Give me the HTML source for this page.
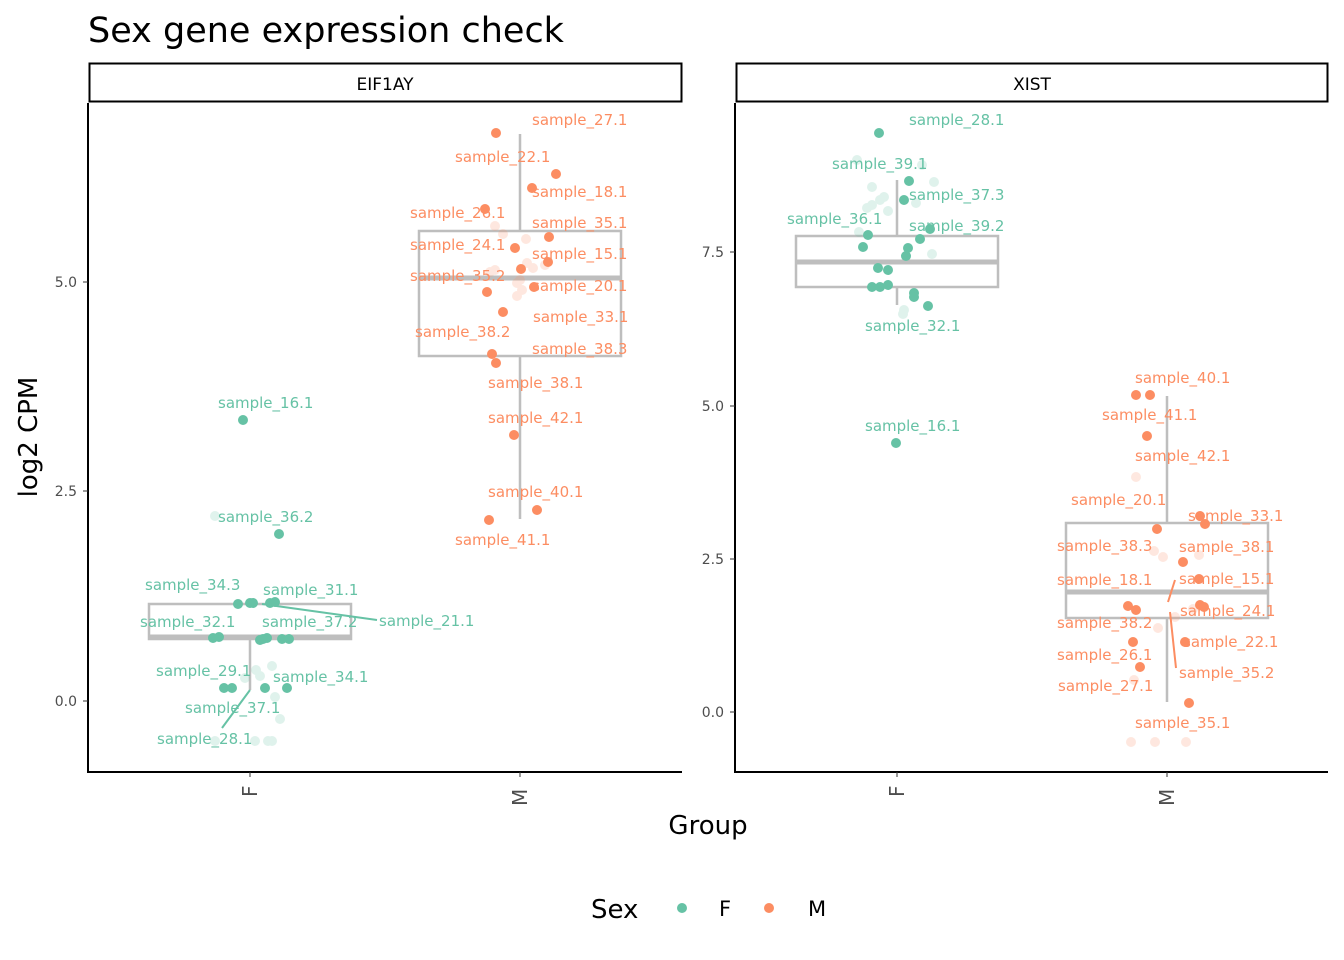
<!DOCTYPE html>
<html><head><meta charset="utf-8"><style>
html,body{margin:0;padding:0;background:#fff}
svg{display:block}
text{font-family:"DejaVu Sans","Liberation Sans",sans-serif}
.lf{fill:#66C2A5;font-size:15px}
.lm{fill:#FC8D62;font-size:15px}
.tk{fill:#4d4d4d;font-size:14px}
</style></head><body>
<svg width="1344" height="960" viewBox="0 0 1344 960" xmlns="http://www.w3.org/2000/svg">
<text x="88" y="42" font-size="35" fill="#000">Sex gene expression check</text>
<!-- strips -->
<rect x="89.5" y="63.5" width="592" height="38" fill="#fff" stroke="#000" stroke-width="2"/>
<text x="385" y="90" font-size="17" text-anchor="middle">EIF1AY</text>
<rect x="736.5" y="63.5" width="591" height="38" fill="#fff" stroke="#000" stroke-width="2"/>
<text x="1032" y="90" font-size="17" text-anchor="middle">XIST</text>
<!-- axes -->
<path d="M88 103V772H682" fill="none" stroke="#000" stroke-width="2"/>
<path d="M735 103V772H1328" fill="none" stroke="#000" stroke-width="2"/>
<g stroke="#333" stroke-width="1">
<path d="M83 701H88M83 491H88M83 282H88"/>
<path d="M730 712H735M730 559H735M730 406H735M730 252H735"/>
<path d="M250 772V777M520 772V777M897 772V777M1167 772V777"/>
</g>
<g class="tk" text-anchor="end">
<text x="77" y="706">0.0</text><text x="77" y="496">2.5</text><text x="77" y="287">5.0</text>
<text x="724" y="717">0.0</text><text x="724" y="564">2.5</text><text x="724" y="411">5.0</text><text x="724" y="257">7.5</text>
</g>
<g font-size="20" fill="#4d4d4d">
<text transform="translate(257,797) rotate(-90)">F</text>
<text transform="translate(527,806) rotate(-90)">M</text>
<text transform="translate(904,797) rotate(-90)">F</text>
<text transform="translate(1174,806) rotate(-90)">M</text>
</g>
<text transform="translate(37,437) rotate(-90)" font-size="26" text-anchor="middle">log2 CPM</text>
<text x="708" y="834" font-size="26" text-anchor="middle">Group</text>
<!-- legend -->
<text x="591" y="918" font-size="26">Sex</text>
<circle cx="682" cy="908" r="5" fill="#66C2A5"/><text x="719" y="916" font-size="21">F</text>
<circle cx="769" cy="908" r="5" fill="#FC8D62"/><text x="808" y="916" font-size="21">M</text>
<!-- boxes -->
<g fill="none" stroke="#bebebe" stroke-width="2.5">
<path d="M250 639V690M250 604V600"/>
<rect x="149" y="604" width="202" height="35"/>
<path d="M149 637H351" stroke-width="5"/>
<path d="M520 231V134M520 356V519"/>
<rect x="419" y="231" width="202" height="125"/>
<path d="M419 278H621" stroke-width="5"/>
<path d="M897 236V180M897 287V305"/>
<rect x="796" y="236" width="202" height="51"/>
<path d="M796 262H998" stroke-width="5"/>
<path d="M1167 523V396M1167 618V702"/>
<rect x="1066" y="523" width="202" height="95"/>
<path d="M1066 592H1268" stroke-width="5"/>
</g>
<!-- faded points -->
<g fill="#66C2A5" opacity="0.2">
<circle cx="215" cy="516" r="5"/><circle cx="215" cy="741" r="5"/><circle cx="255" cy="741" r="5"/><circle cx="268" cy="741" r="5"/><circle cx="272" cy="741" r="5"/><circle cx="280" cy="719" r="5"/><circle cx="275" cy="697" r="5"/><circle cx="272" cy="666" r="5"/><circle cx="256" cy="670" r="5"/><circle cx="260" cy="676" r="5"/><circle cx="245" cy="678" r="5"/>
<circle cx="857" cy="160" r="5"/><circle cx="872" cy="187" r="5"/><circle cx="884" cy="197" r="5"/><circle cx="880" cy="200" r="5"/><circle cx="872" cy="205" r="5"/><circle cx="867" cy="208" r="5"/><circle cx="888" cy="211" r="5"/><circle cx="916" cy="203" r="5"/><circle cx="934" cy="182" r="5"/><circle cx="932" cy="254" r="5"/><circle cx="904" cy="310" r="5"/><circle cx="903" cy="314" r="5"/><circle cx="859" cy="232" r="5"/><circle cx="922" cy="165" r="5"/>
</g>
<g fill="#FC8D62" opacity="0.2">
<circle cx="495" cy="226" r="5"/><circle cx="503" cy="234" r="5"/><circle cx="526" cy="239" r="5"/><circle cx="490" cy="272" r="5"/><circle cx="495" cy="270" r="5"/><circle cx="527" cy="263" r="5"/><circle cx="533" cy="268" r="5"/><circle cx="545" cy="265" r="5"/><circle cx="517" cy="283" r="5"/><circle cx="522" cy="290" r="5"/><circle cx="517" cy="296" r="5"/><circle cx="520" cy="280" r="5"/>
<circle cx="1136" cy="477" r="5"/><circle cx="1154" cy="551" r="5"/><circle cx="1163" cy="557" r="5"/><circle cx="1199" cy="555" r="5"/><circle cx="1175" cy="617" r="5"/><circle cx="1158" cy="628" r="5"/><circle cx="1134" cy="680" r="5"/><circle cx="1131" cy="742" r="5"/><circle cx="1155" cy="742" r="5"/><circle cx="1186" cy="742" r="5"/><circle cx="1193" cy="609" r="5"/>
</g>
<!-- segments -->
<g stroke-width="2" fill="none">
<path d="M250 690L222 728M262 604L377 620" stroke="#66C2A5"/>
<path d="M1175 580L1168 602M1170 612L1176 668" stroke="#FC8D62"/>
</g>
<!-- solid points -->
<g fill="#66C2A5">
<circle cx="243" cy="420" r="5"/><circle cx="279" cy="534" r="5"/><circle cx="238" cy="604" r="5"/><circle cx="250" cy="603" r="5"/><circle cx="253" cy="603" r="5"/><circle cx="270" cy="603" r="5"/><circle cx="275" cy="602" r="5"/><circle cx="213" cy="638" r="5"/><circle cx="219" cy="637" r="5"/><circle cx="260" cy="640" r="5"/><circle cx="263" cy="639" r="5"/><circle cx="267" cy="638" r="5"/><circle cx="282" cy="639" r="5"/><circle cx="289" cy="639" r="5"/><circle cx="224" cy="688" r="5"/><circle cx="232" cy="688" r="5"/><circle cx="265" cy="688" r="5"/><circle cx="287" cy="688" r="5"/>
<circle cx="879" cy="133" r="5"/><circle cx="909" cy="181" r="5"/><circle cx="904" cy="200" r="5"/><circle cx="930" cy="229" r="5"/><circle cx="868" cy="235" r="5"/><circle cx="920" cy="239" r="5"/><circle cx="908" cy="248" r="5"/><circle cx="863" cy="247" r="5"/><circle cx="906" cy="256" r="5"/><circle cx="878" cy="268" r="5"/><circle cx="888" cy="270" r="5"/><circle cx="872" cy="287" r="5"/><circle cx="880" cy="287" r="5"/><circle cx="888" cy="285" r="5"/><circle cx="914" cy="293" r="5"/><circle cx="914" cy="297" r="5"/><circle cx="928" cy="306" r="5"/><circle cx="896" cy="443" r="5"/>
</g>
<g fill="#FC8D62">
<circle cx="496" cy="133" r="5"/><circle cx="556" cy="174" r="5"/><circle cx="532" cy="188" r="5"/><circle cx="485" cy="209" r="5"/><circle cx="549" cy="237" r="5"/><circle cx="515" cy="248" r="5"/><circle cx="548" cy="262" r="5"/><circle cx="521" cy="269" r="5"/><circle cx="487" cy="292" r="5"/><circle cx="534" cy="287" r="5"/><circle cx="503" cy="312" r="5"/><circle cx="492" cy="354" r="5"/><circle cx="496" cy="363" r="5"/><circle cx="514" cy="435" r="5"/><circle cx="537" cy="510" r="5"/><circle cx="489" cy="520" r="5"/>
<circle cx="1136" cy="395" r="5"/><circle cx="1150" cy="395" r="5"/><circle cx="1147" cy="436" r="5"/><circle cx="1157" cy="529" r="5"/><circle cx="1200" cy="516" r="5"/><circle cx="1205" cy="524" r="5"/><circle cx="1183" cy="562" r="5"/><circle cx="1199" cy="579" r="5"/><circle cx="1128" cy="606" r="5"/><circle cx="1136" cy="610" r="5"/><circle cx="1200" cy="605" r="5"/><circle cx="1204" cy="607" r="5"/><circle cx="1133" cy="642" r="5"/><circle cx="1185" cy="642" r="5"/><circle cx="1140" cy="667" r="5"/><circle cx="1189" cy="703" r="5"/>
</g>
<!-- labels -->
<g class="lm">
<text x="532" y="125">sample_27.1</text><text x="455" y="162">sample_22.1</text><text x="532" y="197">sample_18.1</text><text x="410" y="218">sample_26.1</text><text x="532" y="228">sample_35.1</text><text x="410" y="250">sample_24.1</text><text x="532" y="259">sample_15.1</text><text x="410" y="281">sample_35.2</text><text x="532" y="291">sample_20.1</text><text x="533" y="322">sample_33.1</text><text x="415" y="337">sample_38.2</text><text x="532" y="354">sample_38.3</text><text x="488" y="388">sample_38.1</text><text x="488" y="423">sample_42.1</text><text x="488" y="497">sample_40.1</text><text x="455" y="545">sample_41.1</text>
<text x="1135" y="383">sample_40.1</text><text x="1102" y="420">sample_41.1</text><text x="1135" y="461">sample_42.1</text><text x="1071" y="505">sample_20.1</text><text x="1188" y="521">sample_33.1</text><text x="1057" y="551">sample_38.3</text><text x="1179" y="552">sample_38.1</text><text x="1057" y="585">sample_18.1</text><text x="1179" y="584">sample_15.1</text><text x="1057" y="628">sample_38.2</text><text x="1180" y="616">sample_24.1</text><text x="1183" y="647">sample_22.1</text><text x="1057" y="660">sample_26.1</text><text x="1179" y="678">sample_35.2</text><text x="1058" y="691">sample_27.1</text><text x="1135" y="728">sample_35.1</text>
</g>
<g class="lf">
<text x="218" y="408">sample_16.1</text><text x="218" y="522">sample_36.2</text><text x="145" y="590">sample_34.3</text><text x="263" y="595">sample_31.1</text><text x="379" y="626">sample_21.1</text><text x="140" y="627">sample_32.1</text><text x="262" y="627">sample_37.2</text><text x="156" y="676">sample_29.1</text><text x="273" y="682">sample_34.1</text><text x="185" y="713">sample_37.1</text><text x="157" y="744">sample_28.1</text>
<text x="909" y="125">sample_28.1</text><text x="832" y="169">sample_39.1</text><text x="909" y="200">sample_37.3</text><text x="787" y="224">sample_36.1</text><text x="909" y="231">sample_39.2</text><text x="865" y="331">sample_32.1</text><text x="865" y="431">sample_16.1</text>
</g>
</svg>
</body></html>
